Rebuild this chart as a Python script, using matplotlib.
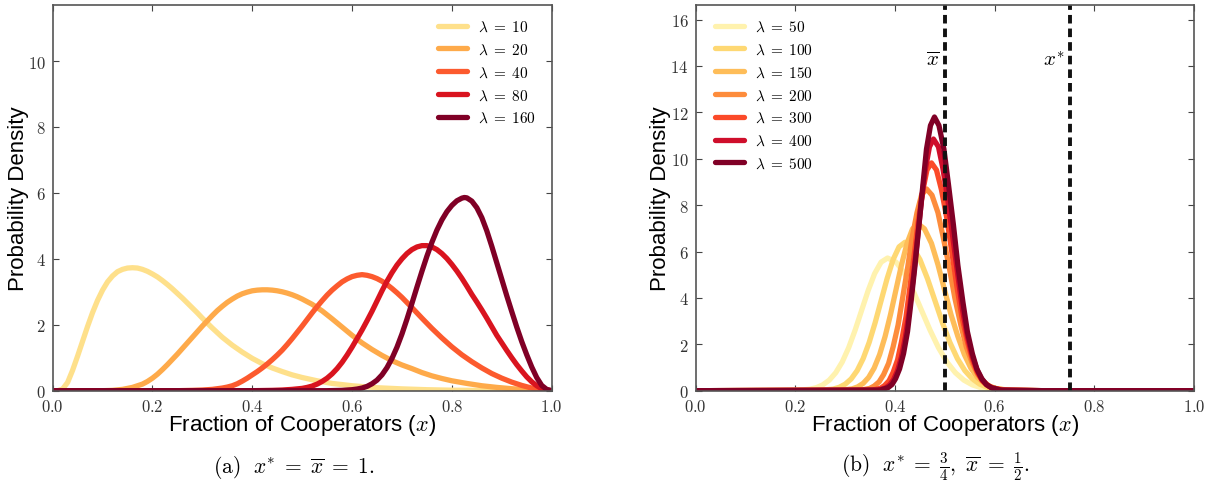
import matplotlib
matplotlib.use("Agg")
import matplotlib.pyplot as plt

plt.rcParams['mathtext.fontset'] = 'cm'
plt.rcParams['font.family'] = ['Liberation Sans', 'DejaVu Sans']

# ---- panel (a): x* = xbar = 1 ----
lam_a = [10, 20, 40, 80, 160]
colors_a = ['#fee08b', '#feaa4a', '#fc5a2e', '#d9141f', '#800026']

xa_10 = [0.0, 0.01, 0.02, 0.03, 0.04, 0.05, 0.06, 0.07, 0.08, 0.09, 0.10, 0.11, 0.12, 0.13,
         0.14, 0.15, 0.16, 0.17, 0.18, 0.19, 0.20, 0.21, 0.22, 0.23, 0.24, 0.25, 0.26, 0.27,
         0.28, 0.29, 0.30, 0.32, 0.34, 0.36, 0.38, 0.40, 0.42, 0.44, 0.46, 0.48, 0.50, 0.53,
         0.56, 0.60, 0.65, 0.70, 0.75, 0.80, 0.90, 1.0]
ya_10 = [0.0, 0.0, 0.05, 0.25, 0.62, 1.05, 1.50, 1.95, 2.37, 2.74, 3.05, 3.30, 3.48, 3.61,
         3.68, 3.72, 3.73, 3.72, 3.68, 3.62, 3.54, 3.45, 3.34, 3.22, 3.09, 2.95, 2.81, 2.66,
         2.51, 2.36, 2.20, 1.90, 1.62, 1.38, 1.17, 0.98, 0.82, 0.69, 0.58, 0.48, 0.40, 0.30,
         0.22, 0.15, 0.09, 0.055, 0.03, 0.015, 0.003, 0.0]

xa_20 = [0.0, 0.10, 0.12, 0.14, 0.16, 0.18, 0.19, 0.20, 0.21, 0.22, 0.23, 0.24, 0.25, 0.26,
         0.27, 0.28, 0.29, 0.30, 0.31, 0.32, 0.33, 0.34, 0.35, 0.36, 0.37, 0.38, 0.39, 0.40,
         0.41, 0.42, 0.43, 0.44, 0.45, 0.46, 0.47, 0.48, 0.49, 0.50, 0.52, 0.54, 0.56, 0.58,
         0.60, 0.62, 0.64, 0.66, 0.68, 0.70, 0.72, 0.74, 0.76, 0.78, 0.80, 0.83, 0.86, 0.89,
         0.92, 0.95, 0.98, 1.0]
ya_20 = [0.0, 0.0, 0.01, 0.04, 0.10, 0.20, 0.28, 0.38, 0.50, 0.64, 0.79, 0.95, 1.11, 1.28,
         1.45, 1.62, 1.79, 1.96, 2.12, 2.28, 2.43, 2.56, 2.68, 2.78, 2.87, 2.94, 2.99, 3.03,
         3.05, 3.06, 3.06, 3.05, 3.03, 3.00, 2.96, 2.91, 2.85, 2.78, 2.62, 2.42, 2.18, 1.93,
         1.68, 1.45, 1.25, 1.07, 0.91, 0.78, 0.67, 0.55, 0.45, 0.37, 0.30, 0.22, 0.15, 0.10,
         0.06, 0.03, 0.01, 0.0]

xa_40 = [0.0, 0.25, 0.28, 0.30, 0.32, 0.34, 0.35, 0.36, 0.37, 0.38, 0.39, 0.40, 0.41, 0.42,
         0.43, 0.44, 0.45, 0.46, 0.47, 0.48, 0.49, 0.50, 0.51, 0.52, 0.53, 0.54, 0.55, 0.56,
         0.57, 0.58, 0.59, 0.60, 0.61, 0.62, 0.63, 0.64, 0.65, 0.66, 0.67, 0.68, 0.69, 0.70,
         0.72, 0.74, 0.76, 0.78, 0.80, 0.82, 0.84, 0.86, 0.88, 0.90, 0.92, 0.94, 0.96, 0.98, 1.0]
ya_40 = [0.0, 0.0, 0.01, 0.02, 0.04, 0.08, 0.11, 0.15, 0.21, 0.29, 0.38, 0.48, 0.58, 0.69,
         0.81, 0.94, 1.08, 1.23, 1.40, 1.58, 1.77, 1.96, 2.16, 2.36, 2.55, 2.73, 2.90, 3.05,
         3.18, 3.30, 3.39, 3.46, 3.50, 3.52, 3.50, 3.46, 3.40, 3.32, 3.22, 3.10, 2.97, 2.83,
         2.52, 2.20, 1.89, 1.60, 1.33, 1.09, 0.88, 0.69, 0.52, 0.38, 0.26, 0.16, 0.08, 0.03, 0.0]

xa_80 = [0.0, 0.40, 0.44, 0.46, 0.48, 0.50, 0.51, 0.52, 0.53, 0.54, 0.55, 0.56, 0.57, 0.58,
         0.59, 0.60, 0.61, 0.62, 0.63, 0.64, 0.65, 0.66, 0.67, 0.68, 0.69, 0.70, 0.71, 0.72,
         0.73, 0.74, 0.75, 0.76, 0.77, 0.78, 0.79, 0.80, 0.81, 0.82, 0.83, 0.84, 0.85, 0.86,
         0.87, 0.88, 0.89, 0.90, 0.91, 0.92, 0.93, 0.94, 0.95, 0.96, 0.97, 0.98, 0.99, 1.0]
ya_80 = [0.0, 0.0, 0.01, 0.02, 0.04, 0.07, 0.10, 0.14, 0.20, 0.28, 0.38, 0.51, 0.67, 0.86,
         1.08, 1.32, 1.58, 1.84, 2.12, 2.41, 2.72, 3.03, 3.32, 3.58, 3.81, 4.00, 4.16, 4.28,
         4.36, 4.40, 4.40, 4.36, 4.28, 4.16, 4.01, 3.83, 3.63, 3.41, 3.17, 2.92, 2.69, 2.45,
         2.20, 1.94, 1.68, 1.45, 1.22, 1.00, 0.79, 0.60, 0.42, 0.27, 0.15, 0.06, 0.015, 0.0]

xa_160 = [0.0, 0.55, 0.58, 0.60, 0.61, 0.62, 0.63, 0.64, 0.65, 0.66, 0.67, 0.68, 0.69, 0.70,
          0.71, 0.72, 0.73, 0.74, 0.75, 0.76, 0.77, 0.78, 0.79, 0.80, 0.81, 0.82, 0.825, 0.83,
          0.84, 0.85, 0.86, 0.87, 0.88, 0.89, 0.90, 0.91, 0.92, 0.93, 0.94, 0.95, 0.96, 0.97,
          0.98, 0.99, 1.0]
ya_160 = [0.0, 0.0, 0.01, 0.03, 0.05, 0.08, 0.13, 0.21, 0.32, 0.48, 0.70, 0.98, 1.32, 1.72,
          2.17, 2.65, 3.14, 3.62, 4.08, 4.50, 4.87, 5.18, 5.43, 5.62, 5.76, 5.84, 5.86, 5.85,
          5.75, 5.55, 5.25, 4.85, 4.38, 3.88, 3.38, 2.88, 2.40, 1.93, 1.49, 1.09, 0.72, 0.40,
          0.16, 0.04, 0.0]

# ---- panel (b): x* = 3/4, xbar = 1/2 ----
lam_b = [50, 100, 150, 200, 300, 400, 500]
colors_b = ['#fff2ae', '#fed873', '#febd59', '#fd8c3c', '#fb4a29', '#cf0e2b', '#800026']
x_star, x_bar = 0.75, 0.5

xb_50 = [0.0, 0.203, 0.229, 0.242, 0.255, 0.268, 0.281, 0.294, 0.307, 0.320, 0.333, 0.346,
         0.359, 0.372, 0.385, 0.402, 0.419, 0.436, 0.453, 0.470, 0.487, 0.504, 0.521, 0.538,
         0.555, 0.572, 0.589, 0.623, 0.70, 1.0]
yb_50 = [0.0, 0.013, 0.063, 0.130, 0.251, 0.455, 0.774, 1.237, 1.857, 2.619, 3.469, 4.317,
         5.048, 5.543, 5.720, 5.543, 5.048, 4.317, 3.469, 2.619, 1.857, 1.237, 0.774, 0.455,
         0.251, 0.130, 0.063, 0.013, 0.0, 0.0]

xb_100 = [0.0, 0.252, 0.276, 0.288, 0.300, 0.312, 0.324, 0.336, 0.348, 0.360, 0.372, 0.384,
          0.396, 0.408, 0.420, 0.435, 0.450, 0.465, 0.480, 0.495, 0.510, 0.525, 0.540, 0.555,
          0.570, 0.585, 0.600, 0.630, 0.70, 1.0]
yb_100 = [0.0, 0.014, 0.071, 0.146, 0.281, 0.509, 0.866, 1.384, 2.078, 2.930, 3.882, 4.831,
          5.648, 6.202, 6.400, 6.202, 5.648, 4.831, 3.882, 2.930, 2.078, 1.384, 0.866, 0.509,
          0.281, 0.146, 0.071, 0.014, 0.0, 0.0]

xb_150 = [0.0, 0.292, 0.314, 0.325, 0.336, 0.347, 0.358, 0.369, 0.380, 0.391, 0.402, 0.413,
          0.424, 0.435, 0.446, 0.459, 0.473, 0.486, 0.499, 0.512, 0.526, 0.539, 0.552, 0.565,
          0.579, 0.592, 0.605, 0.632, 0.70, 1.0]
yb_150 = [0.0, 0.016, 0.080, 0.164, 0.316, 0.573, 0.974, 1.557, 2.338, 3.296, 4.367, 5.435,
          6.354, 6.977, 7.200, 6.977, 6.354, 5.435, 4.367, 3.296, 2.338, 1.557, 0.974, 0.573,
          0.316, 0.164, 0.080, 0.016, 0.0, 0.0]

xb_200 = [0.0, 0.330, 0.349, 0.358, 0.368, 0.377, 0.387, 0.396, 0.406, 0.415, 0.425, 0.434,
          0.444, 0.453, 0.463, 0.474, 0.486, 0.497, 0.509, 0.520, 0.532, 0.543, 0.555, 0.566,
          0.578, 0.589, 0.601, 0.624, 0.70, 1.0]
yb_200 = [0.0, 0.019, 0.097, 0.198, 0.382, 0.693, 1.177, 1.882, 2.825, 3.983, 5.277, 6.567,
          7.678, 8.430, 8.700, 8.430, 7.678, 6.567, 5.277, 3.983, 2.825, 1.882, 1.177, 0.693,
          0.382, 0.198, 0.097, 0.019, 0.0, 0.0]

xb_300 = [0.0, 0.354, 0.371, 0.379, 0.388, 0.396, 0.405, 0.413, 0.422, 0.430, 0.439, 0.447,
          0.456, 0.464, 0.473, 0.483, 0.493, 0.504, 0.514, 0.524, 0.534, 0.545, 0.555, 0.565,
          0.575, 0.586, 0.596, 0.616, 0.70, 1.0]
yb_300 = [0.0, 0.022, 0.109, 0.224, 0.431, 0.782, 1.329, 2.124, 3.189, 4.496, 5.956, 7.412,
          8.666, 9.516, 9.820, 9.516, 8.666, 7.412, 5.956, 4.496, 3.189, 2.124, 1.329, 0.782,
          0.431, 0.224, 0.109, 0.022, 0.0, 0.0]

xb_400 = [0.0, 0.365, 0.381, 0.389, 0.397, 0.405, 0.413, 0.421, 0.429, 0.437, 0.445, 0.453,
          0.461, 0.469, 0.477, 0.487, 0.496, 0.506, 0.516, 0.526, 0.535, 0.545, 0.555, 0.565,
          0.574, 0.584, 0.594, 0.614, 0.70, 1.0]
yb_400 = [0.0, 0.024, 0.120, 0.247, 0.476, 0.864, 1.468, 2.347, 3.523, 4.967, 6.581, 8.190,
          9.575, 10.514, 10.850, 10.514, 9.575, 8.190, 6.581, 4.967, 3.523, 2.347, 1.468, 0.864,
          0.476, 0.247, 0.120, 0.024, 0.0, 0.0]

xb_500 = [0.0, 0.370, 0.386, 0.394, 0.401, 0.409, 0.417, 0.425, 0.432, 0.440, 0.448, 0.456,
          0.463, 0.471, 0.479, 0.488, 0.498, 0.507, 0.517, 0.526, 0.536, 0.545, 0.555, 0.564,
          0.574, 0.583, 0.593, 0.612, 0.70, 1.0]
yb_500 = [0.0, 0.026, 0.131, 0.269, 0.518, 0.939, 1.597, 2.552, 3.831, 5.402, 7.157, 8.907,
          10.414, 11.434, 11.800, 11.434, 10.414, 8.907, 7.157, 5.402, 3.831, 2.552, 1.597, 0.939,
          0.518, 0.269, 0.131, 0.026, 0.0, 0.0]

curves_a = [(xa_10, ya_10), (xa_20, ya_20), (xa_40, ya_40), (xa_80, ya_80), (xa_160, ya_160)]
curves_b = [(xb_50, yb_50), (xb_100, yb_100), (xb_150, yb_150), (xb_200, yb_200),
            (xb_300, yb_300), (xb_400, yb_400), (xb_500, yb_500)]


def style_axes(ax, ymax, yticks, ylabel_x):
    ax.set_xlim(0, 1)
    ax.set_ylim(0, ymax)
    xt = [0.0, 0.2, 0.4, 0.6, 0.8, 1.0]
    ax.set_xticks(xt)
    ax.set_xticklabels([f"${t:.1f}$" for t in xt])
    ax.set_yticks(yticks)
    ax.set_yticklabels([f"${t}$" for t in yticks])
    ax.tick_params(direction='in', top=True, right=True, length=4.5, width=0.8,
                   labelsize=12, colors='#444444', labelcolor='#333333', pad=5)
    for s in ax.spines.values():
        s.set_color('#555555')
        s.set_linewidth(1.2)
    ax.set_xlabel("Fraction of Cooperators ($x$)", fontsize=16)
    ax.set_ylabel("Probability Density", fontsize=16)
    ax.xaxis.set_label_coords(0.5, -0.055)
    ax.yaxis.set_label_coords(ylabel_x, 0.5)


def lam_label(lam):
    return rf"$\lambda \;=\; {lam}$"


fig = plt.figure(figsize=(12.13, 4.85), dpi=100)
ax1 = fig.add_axes([0.0434, 0.1924, 0.4114, 0.7953])
ax2 = fig.add_axes([0.5735, 0.1924, 0.4110, 0.7953])

for (xs, ys), lam, c in zip(curves_a, lam_a, colors_a):
    ax1.plot(xs, ys, color=c, lw=3.8, label=lam_label(lam),
             solid_capstyle='round', solid_joinstyle='round')
style_axes(ax1, 11.7, [0, 2, 4, 6, 8, 10], -0.0475)
ax1.legend(loc='upper right', bbox_to_anchor=(0.99, 0.99), frameon=False, fontsize=11,
           handlelength=1.9, handletextpad=0.7, labelspacing=0.55, borderaxespad=0.3)

for (xs, ys), lam, c in zip(curves_b, lam_b, colors_b):
    ax2.plot(xs, ys, color=c, lw=3.8, label=lam_label(lam),
             solid_capstyle='round', solid_joinstyle='round')
ax2.axvline(x_bar, color='#111111', lw=2.8, ls=(0, (2.2, 1.3)))
ax2.axvline(x_star, color='#111111', lw=2.8, ls=(0, (2.2, 1.3)))
ax2.text(x_bar - 0.01, 14.3, r"$\overline{x}$", fontsize=15, ha='right', va='center')
ax2.text(x_star - 0.01, 14.3, r"$x^{*}$", fontsize=15, ha='right', va='center')
style_axes(ax2, 16.63, [0, 2, 4, 6, 8, 10, 12, 14, 16], -0.0485)
ax2.legend(loc='upper left', bbox_to_anchor=(0.018, 0.99), frameon=False, fontsize=11,
           handlelength=1.9, handletextpad=0.7, labelspacing=0.55, borderaxespad=0.3)

fig.text(294 / 1213, 0.037, r"$\mathrm{(a)}\ \ x^{*} \;=\; \overline{x} \;=\; 1.$",
         fontsize=15.5, ha='center', va='center')
fig.text(935 / 1213, 0.037,
         r"$\mathrm{(b)}\ \ x^{*} \;=\; \frac{3}{4},\ \overline{x} \;=\; \frac{1}{2}.$",
         fontsize=15.5, ha='center', va='center')

fig.savefig("out.png", dpi=100)
